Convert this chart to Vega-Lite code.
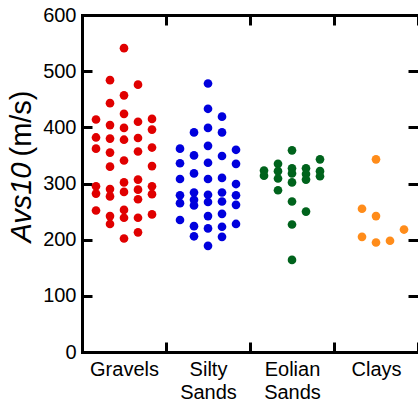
{
  "$schema": "https://vega.github.io/schema/vega-lite/v6.json",
  "width": 336,
  "height": 337,
  "autosize": {"type": "none"},
  "padding": {"left": 82, "top": 15, "right": 0, "bottom": 55},
  "config": {
    "view": {"stroke": null},
    "axis": {
      "domainColor": "black", "domainWidth": 3, "domainCap": "square",
      "tickColor": "black", "tickWidth": 3, "tickSize": -10, "ticks": true,
      "labelFont": "Liberation Sans", "labelFontSize": 20, "labelColor": "black",
      "titleFont": "Liberation Sans", "titleColor": "black", "titleFontSize": 29, "titleFontWeight": "normal",
      "grid": false
    }
  },
  "data": {
    "values": [
      {"g": "Gravels", "v": 541, "c": 0}, {"g": "Gravels", "v": 484, "c": -1}, {"g": "Gravels", "v": 476, "c": 1},
      {"g": "Gravels", "v": 457, "c": 0}, {"g": "Gravels", "v": 443, "c": -1}, {"g": "Gravels", "v": 424, "c": 0},
      {"g": "Gravels", "v": 414, "c": -2}, {"g": "Gravels", "v": 410, "c": 1}, {"g": "Gravels", "v": 415, "c": 2},
      {"g": "Gravels", "v": 404, "c": -1}, {"g": "Gravels", "v": 399, "c": 0}, {"g": "Gravels", "v": 396, "c": 2},
      {"g": "Gravels", "v": 382, "c": -2}, {"g": "Gravels", "v": 380, "c": -1}, {"g": "Gravels", "v": 378, "c": 0},
      {"g": "Gravels", "v": 381, "c": 1}, {"g": "Gravels", "v": 362, "c": -2}, {"g": "Gravels", "v": 355, "c": -1},
      {"g": "Gravels", "v": 357, "c": 1}, {"g": "Gravels", "v": 364, "c": 2}, {"g": "Gravels", "v": 341, "c": 0},
      {"g": "Gravels", "v": 330, "c": -1}, {"g": "Gravels", "v": 331, "c": 2}, {"g": "Gravels", "v": 307, "c": 1},
      {"g": "Gravels", "v": 302, "c": 0}, {"g": "Gravels", "v": 295, "c": -2}, {"g": "Gravels", "v": 290, "c": -1},
      {"g": "Gravels", "v": 295, "c": 2}, {"g": "Gravels", "v": 289, "c": 1}, {"g": "Gravels", "v": 282, "c": -2},
      {"g": "Gravels", "v": 277, "c": -1}, {"g": "Gravels", "v": 285, "c": 0}, {"g": "Gravels", "v": 272, "c": 1},
      {"g": "Gravels", "v": 281, "c": 2}, {"g": "Gravels", "v": 252, "c": -2}, {"g": "Gravels", "v": 253, "c": 0},
      {"g": "Gravels", "v": 242, "c": -1}, {"g": "Gravels", "v": 239, "c": 0}, {"g": "Gravels", "v": 239, "c": 1},
      {"g": "Gravels", "v": 245, "c": 2}, {"g": "Gravels", "v": 228, "c": -1}, {"g": "Gravels", "v": 202, "c": 0},
      {"g": "Gravels", "v": 213, "c": 1},
      {"g": "Silty Sands", "v": 478, "c": 0}, {"g": "Silty Sands", "v": 433, "c": 0}, {"g": "Silty Sands", "v": 419, "c": 1},
      {"g": "Silty Sands", "v": 391, "c": -1}, {"g": "Silty Sands", "v": 399, "c": 0}, {"g": "Silty Sands", "v": 391, "c": 1},
      {"g": "Silty Sands", "v": 362, "c": -2}, {"g": "Silty Sands", "v": 367, "c": 0}, {"g": "Silty Sands", "v": 360, "c": 2},
      {"g": "Silty Sands", "v": 350, "c": -1}, {"g": "Silty Sands", "v": 349, "c": 1}, {"g": "Silty Sands", "v": 336, "c": -2},
      {"g": "Silty Sands", "v": 337, "c": 0}, {"g": "Silty Sands", "v": 335, "c": 2}, {"g": "Silty Sands", "v": 318, "c": -1},
      {"g": "Silty Sands", "v": 308, "c": -2}, {"g": "Silty Sands", "v": 308, "c": 0}, {"g": "Silty Sands", "v": 310, "c": 1},
      {"g": "Silty Sands", "v": 299, "c": 2}, {"g": "Silty Sands", "v": 279, "c": -2}, {"g": "Silty Sands", "v": 284, "c": -1},
      {"g": "Silty Sands", "v": 280, "c": 0}, {"g": "Silty Sands", "v": 284, "c": 1}, {"g": "Silty Sands", "v": 279, "c": 2},
      {"g": "Silty Sands", "v": 265, "c": -2}, {"g": "Silty Sands", "v": 271, "c": -1}, {"g": "Silty Sands", "v": 261, "c": -1},
      {"g": "Silty Sands", "v": 267, "c": 0}, {"g": "Silty Sands", "v": 268, "c": 1}, {"g": "Silty Sands", "v": 262, "c": 2},
      {"g": "Silty Sands", "v": 235, "c": -2}, {"g": "Silty Sands", "v": 242, "c": 0}, {"g": "Silty Sands", "v": 246, "c": 1},
      {"g": "Silty Sands", "v": 224, "c": -1}, {"g": "Silty Sands", "v": 220, "c": 0}, {"g": "Silty Sands", "v": 223, "c": 1},
      {"g": "Silty Sands", "v": 228, "c": 2}, {"g": "Silty Sands", "v": 206, "c": -1}, {"g": "Silty Sands", "v": 205, "c": 1},
      {"g": "Silty Sands", "v": 189, "c": 0},
      {"g": "Eolian Sands", "v": 359, "c": 0}, {"g": "Eolian Sands", "v": 343, "c": 2}, {"g": "Eolian Sands", "v": 335, "c": -1},
      {"g": "Eolian Sands", "v": 323, "c": -2}, {"g": "Eolian Sands", "v": 314, "c": -2}, {"g": "Eolian Sands", "v": 322, "c": -1},
      {"g": "Eolian Sands", "v": 309, "c": -1}, {"g": "Eolian Sands", "v": 327, "c": 0}, {"g": "Eolian Sands", "v": 318, "c": 0},
      {"g": "Eolian Sands", "v": 302, "c": 0}, {"g": "Eolian Sands", "v": 327, "c": 1}, {"g": "Eolian Sands", "v": 317, "c": 1},
      {"g": "Eolian Sands", "v": 307, "c": 1}, {"g": "Eolian Sands", "v": 322, "c": 2}, {"g": "Eolian Sands", "v": 313, "c": 2},
      {"g": "Eolian Sands", "v": 288, "c": -1}, {"g": "Eolian Sands", "v": 268, "c": 0}, {"g": "Eolian Sands", "v": 250, "c": 1},
      {"g": "Eolian Sands", "v": 227, "c": 0}, {"g": "Eolian Sands", "v": 164, "c": 0},
      {"g": "Clays", "v": 343, "c": 0}, {"g": "Clays", "v": 255, "c": -1}, {"g": "Clays", "v": 242, "c": 0},
      {"g": "Clays", "v": 218, "c": 2}, {"g": "Clays", "v": 205, "c": -1}, {"g": "Clays", "v": 195, "c": 0},
      {"g": "Clays", "v": 198, "c": 1}
    ]
  },
  "layer": [
    {
      "mark": {"type": "circle", "size": 75, "opacity": 1},
      "encoding": {
        "x": {
          "field": "g", "type": "nominal",
          "sort": ["Gravels", "Silty Sands", "Eolian Sands", "Clays"],
          "scale": {"paddingInner": 0, "paddingOuter": 0},
          "axis": {"orient": "bottom", "title": null, "labelAngle": 0, "tickBand": "extent", "ticks": true,
                   "tickSize": -10, "labelExpr": "split(datum.label, ' ')", "labelLineHeight": 23,
                   "labelPadding": 17, "labelBaseline": "top"}
        },
        "xOffset": {"field": "c", "type": "quantitative", "scale": {"domain": [-3, 3]}},
        "y": {
          "field": "v", "type": "quantitative", "scale": {"domain": [0, 600], "nice": false},
          "axis": {"orient": "left", "values": [0, 100, 200, 300, 400, 500, 600], "ticks": true, "tickSize": -10,
                   "title": "(m/s)", "titleAlign": "left", "titleY": 141, "titleX": -61,
                   "titleBaseline": "middle", "labelPadding": 16}
        },
        "color": {
          "field": "g", "type": "nominal",
          "scale": {"domain": ["Gravels", "Silty Sands", "Eolian Sands", "Clays"],
                    "range": ["#e00000", "#0000dd", "#00631c", "#ff8c1a"]},
          "legend": null
        }
      }
    },
    {
      "mark": {"type": "circle", "opacity": 0},
      "encoding": {
        "x": {
          "field": "g", "type": "nominal",
          "sort": ["Gravels", "Silty Sands", "Eolian Sands", "Clays"],
          "scale": {"paddingInner": 0, "paddingOuter": 0},
          "axis": {"orient": "top", "title": null, "labels": false, "tickBand": "extent", "ticks": true, "tickSize": -10}
        },
        "y": {
          "field": "v", "type": "quantitative",
          "axis": {"orient": "left", "values": [0, 100, 200, 300, 400, 500, 600],
                   "title": "Avs10", "titleAlign": "right", "titleFontStyle": "italic",
                   "titleY": 147, "titleX": -61, "titleBaseline": "middle",
                   "labels": false, "ticks": false, "domain": false}
        }
      }
    },
    {
      "mark": {"type": "circle", "opacity": 0},
      "encoding": {
        "y": {
          "field": "v", "type": "quantitative",
          "axis": {"orient": "right", "values": [0, 100, 200, 300, 400, 500, 600],
                   "title": null, "labels": false, "domain": false}
        }
      }
    }
  ],
  "resolve": {"axis": {"x": "independent", "y": "independent"}}
}
